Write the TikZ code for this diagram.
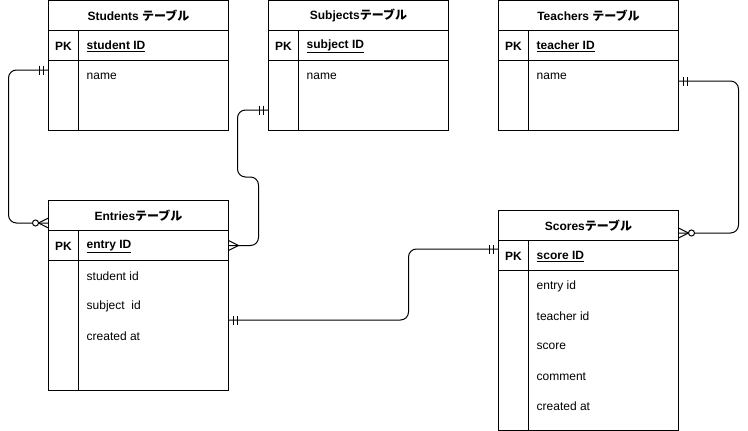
\documentclass[tikz,border=0pt]{standalone}
\usepackage{fontspec}
\setmainfont{Liberation Sans}
\newfontfamily\jpfont{Noto Sans CJK JP}
\usetikzlibrary{calc,positioning,decorations.markings}
\tikzset{>=latex}
\newcommand{\erfont}{\fontsize{12}{14}\selectfont}

\tikzset{
  erbox/.style={draw, line width=1pt, outer sep=0pt, inner sep=0pt, minimum width=180pt},
  ertitle/.style={erbox, minimum height=30pt, font=\erfont\bfseries},
  erpk/.style={erbox, minimum height=30pt},
  erbody/.style={erbox},
  erfield/.style={anchor=west, inner sep=0pt, font=\erfont},
  conn/.style={line width=1pt, rounded corners=8pt},
  erbar/.style={line width=1pt, sharp corners},
  one start/.style={postaction={decorate, decoration={markings,
      mark=at position 5pt with {\draw[erbar] (0,-4.5pt) -- (0,4.5pt);},
      mark=at position 9pt with {\draw[erbar] (0,-4.5pt) -- (0,4.5pt);}}}},
  one end/.style={postaction={decorate, decoration={markings,
      mark=at position -9pt with {\draw[erbar] (0,-4.5pt) -- (0,4.5pt);},
      mark=at position -5pt with {\draw[erbar] (0,-4.5pt) -- (0,4.5pt);}}}},
  many end/.style={postaction={decorate, decoration={markings,
      mark=at position -10pt with {\draw[erbar] (10pt,5pt) -- (0,0) -- (10pt,-5pt);}}}},
  zmany end/.style={postaction={decorate, decoration={markings,
      mark=at position -10pt with {\draw[erbar] (10pt,5pt) -- (0,0) -- (10pt,-5pt);},
      mark=at position -13pt with {\draw[erbar, fill=white] (0,0) circle (3pt);}}}}
}

% one table: id, position, title, key, body height, fields
\newcommand{\ertable}[6]{%
  \node[ertitle, anchor=north west] (#1-title) at #2 {#3};
  \node[erpk, below=0pt of #1-title] (#1-pk) {};
  \node[erbody, minimum height=#5, below=0pt of #1-pk] (#1-body) {};
  \draw[line width=1pt] ([xshift=30pt]#1-pk.north west) -- ([xshift=30pt]#1-body.south west);
  \node[font=\erfont\bfseries] (#1-pklabel) at ([xshift=15pt, yshift=-1pt]#1-pk.west) {PK};
  \node[erfield, font=\erfont\bfseries] (#1-key) at ([xshift=38pt, yshift=-1pt]#1-pk.west) {\underline{#4}};
  \foreach \f [count=\i] in {#6}
    \node[erfield] (#1-f\i) at ([xshift=38pt, yshift=14pt-30pt*\i]#1-body.north west) {\f};
}

\begin{document}
\begin{tikzpicture}[x=1pt, y=-1pt]
\useasboundingbox (0,0) rectangle (748,431);

\ertable{stu}{(48.5,0.5)}{Students {\jpfont テーブル}}{student ID}{69.5pt}{name}
\ertable{sub}{(268.5,0.5)}{Subjects{\jpfont テーブル}}{subject ID}{69.5pt}{name}
\ertable{tea}{(498.5,0.5)}{Teachers {\jpfont テーブル}}{teacher ID}{69.5pt}{name}
\ertable{ent}{(48.5,200.5)}{Entries{\jpfont テーブル}}{entry ID}{130pt}{student id, subject\ \ id, created at}
\ertable{sco}{(498.5,210.5)}{Scores{\jpfont テーブル}}{score ID}{160pt}{entry id, teacher id, score, comment, created at}

% connector ends
\coordinate (stu-out) at ([yshift=-9.5pt]stu-body.north west);
\coordinate (ent-in1) at ([yshift=-22.5pt]ent-title.north west);
\coordinate (sub-out) at ([yshift=-49.5pt]sub-body.north west);
\coordinate (tea-out) at ([yshift=-20.5pt]tea-body.north east);
\coordinate (sco-in1) at ([yshift=-22.5pt]sco-title.north east);
\coordinate (ent-out) at ([yshift=-59.5pt]ent-body.north east);
\coordinate (sco-in2) at ([yshift=-8.5pt]sco-pk.north west);

\draw[conn, one start, zmany end] (stu-out) -- ++(-40pt,0) |- (ent-in1);
\draw[conn, one start, many end] (sub-out) -- ++(-31pt,0) -- ++(0,-67pt) -- ++(21pt,0) |- (ent-pk.east);
\draw[conn, one start, zmany end] (tea-out) -- ++(60pt,0) |- (sco-in1);
\draw[conn, one start, one end] (ent-out) -- ++(180pt,0) |- (sco-in2);
\end{tikzpicture}
\end{document}
